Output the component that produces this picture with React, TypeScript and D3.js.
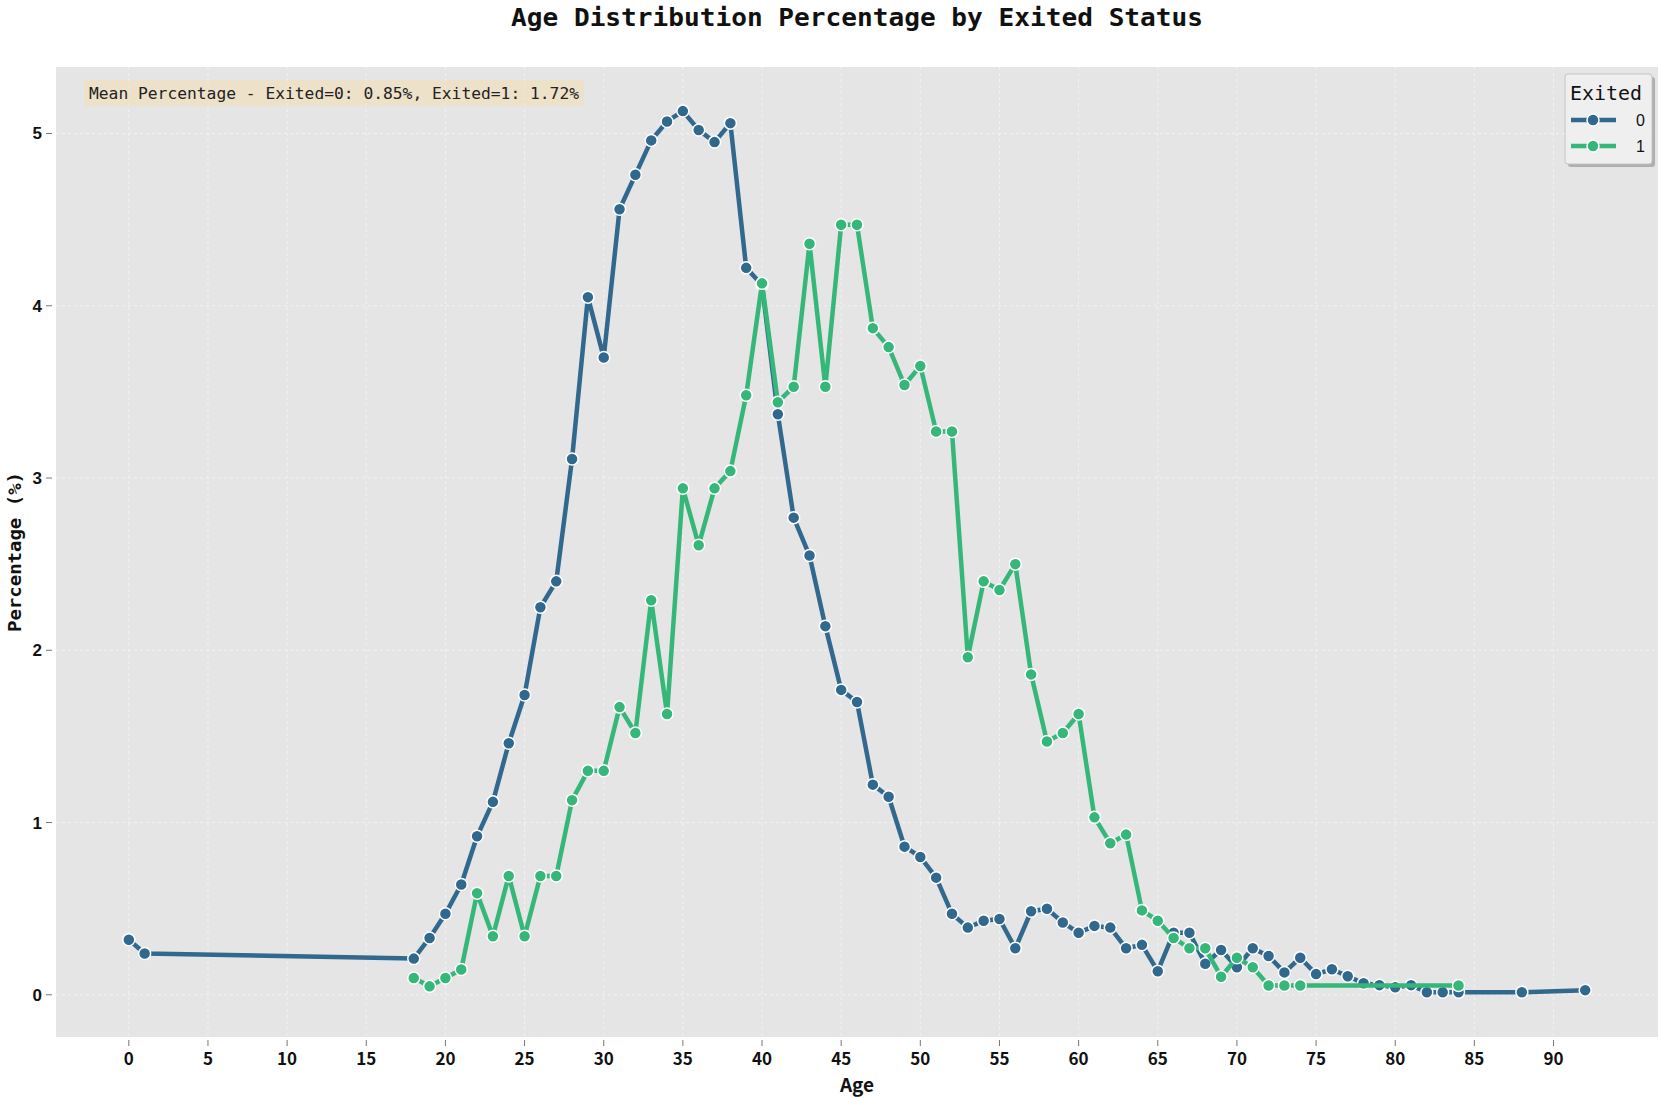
import * as d3 from "d3";

const ages0 = [0, 1, 18, 19, 20, 21, 22, 23, 24, 25, 26, 27, 28, 29, 30, 31, 32, 33, 34, 35, 36, 37, 38, 39, 40,
  41, 42, 43, 44, 45, 46, 47, 48, 49, 50, 51, 52, 53, 54, 55, 56, 57, 58, 59, 60, 61, 62, 63, 64, 65, 66, 67, 68,
  69, 70, 71, 72, 73, 74, 75, 76, 77, 78, 79, 80, 81, 82, 83, 84, 88, 92];
const pct0 = [0.32, 0.24, 0.21, 0.33, 0.47, 0.64, 0.92, 1.12, 1.46, 1.74, 2.25, 2.4, 3.11, 4.05, 3.7, 4.56, 4.76,
  4.96, 5.07, 5.13, 5.02, 4.95, 5.06, 4.22, 4.12, 3.37, 2.77, 2.55, 2.14, 1.77, 1.7, 1.22, 1.15, 0.86, 0.8, 0.68,
  0.47, 0.39, 0.43, 0.44, 0.27, 0.485, 0.5, 0.42, 0.36, 0.4, 0.39, 0.27, 0.29, 0.137, 0.36, 0.36, 0.18, 0.26,
  0.16, 0.27, 0.225, 0.13, 0.215, 0.12, 0.148, 0.108, 0.067, 0.056, 0.044, 0.056, 0.015, 0.015, 0.015, 0.015, 0.027];

const ages1 = [18, 19, 20, 21, 22, 23, 24, 25, 26, 27, 28, 29, 30, 31, 32, 33, 34, 35, 36, 37, 38, 39, 40, 41, 42,
  43, 44, 45, 46, 47, 48, 49, 50, 51, 52, 53, 54, 55, 56, 57, 58, 59, 60, 61, 62, 63, 64, 65, 66, 67, 68, 69, 70,
  71, 72, 73, 74, 84];
const pct1 = [0.098, 0.049, 0.098, 0.147, 0.59, 0.34, 0.69, 0.34, 0.69, 0.69, 1.13, 1.3, 1.3, 1.67, 1.52, 2.29,
  1.63, 2.94, 2.61, 2.94, 3.04, 3.48, 4.13, 3.44, 3.53, 4.36, 3.53, 4.47, 4.47, 3.87, 3.76, 3.54, 3.65, 3.27,
  3.27, 1.96, 2.4, 2.35, 2.5, 1.86, 1.47, 1.52, 1.63, 1.03, 0.88, 0.93, 0.49, 0.43, 0.33, 0.27, 0.27, 0.105,
  0.215, 0.16, 0.054, 0.054, 0.054, 0.054];

const xTicks = d3.range(0, 95, 5);
const yTicks = [0, 1, 2, 3, 4, 5];
const series = [
  { key: "0", ages: ages0, pct: pct0, color: "#31688e" },
  { key: "1", ages: ages1, pct: pct1, color: "#35b779" },
];

const W = 1659;
const H = 1098;
const M = { left: 56, right: 1658, top: 67, bottom: 1037 };
const mono = "'DejaVu Sans Mono', 'Liberation Mono', monospace";
const cjk = "'Noto Sans CJK SC', 'Liberation Sans', sans-serif";

export default function App() {
  const x = d3.scaleLinear().domain([-4.6, 96.6]).range([M.left, M.right]);
  const y = d3.scaleLinear().domain([-0.245, 5.386]).range([M.bottom, M.top]);
  const line = d3.line<[number, number]>().x((d) => x(d[0])).y((d) => y(d[1]));

  return (
    <svg width={W} height={H} style={{ position: "absolute", left: 0, top: 0, background: "#fff" }}>
      <rect x={M.left} y={M.top} width={M.right - M.left} height={M.bottom - M.top} fill="#e5e5e5" />
      {/* grid */}
      {xTicks.map((t) => (
        <line key={"gx" + t} x1={x(t)} x2={x(t)} y1={M.top} y2={M.bottom} stroke="#f2f2f2" strokeWidth={1} strokeDasharray="3,3" />
      ))}
      {yTicks.map((t) => (
        <line key={"gy" + t} x1={M.left} x2={M.right} y1={y(t)} y2={y(t)} stroke="#f2f2f2" strokeWidth={1} strokeDasharray="3,3" />
      ))}

      {/* series */}
      {series.map((s) => {
        const pts = s.ages.map((a, i) => [a, s.pct[i]] as [number, number]);
        return (
          <g key={s.key}>
            <path d={line(pts) ?? ""} fill="none" stroke={s.color} strokeWidth={4.5} strokeLinejoin="round" />
            {pts.map((p, i) => (
              <circle key={i} cx={x(p[0])} cy={y(p[1])} r={6} fill={s.color} stroke="#fff" strokeWidth={1.5} />
            ))}
          </g>
        );
      })}

      {/* x axis */}
      {xTicks.map((t) => (
        <g key={"xt" + t}>
          <line x1={x(t)} x2={x(t)} y1={M.bottom + 3} y2={M.bottom + 9} stroke="#777" strokeWidth={1} />
          <text x={x(t)} y={M.bottom + 28} textAnchor="middle" fontFamily={cjk} fontSize={17} fontWeight="bold" fill="#111">
            {t}
          </text>
        </g>
      ))}
      <text x={(M.left + M.right) / 2} y={1092} textAnchor="middle" fontFamily={cjk} fontSize={19} fontWeight="bold" fill="#111">
        Age
      </text>

      {/* y axis */}
      {yTicks.map((t) => (
        <g key={"yt" + t}>
          <line x1={M.left - 10} x2={M.left - 4} y1={y(t)} y2={y(t)} stroke="#777" strokeWidth={1} />
          <text x={M.left - 14} y={y(t) + 6} textAnchor="end" fontFamily="'Liberation Sans', Arial, sans-serif" fontSize={17} fontWeight="bold" fill="#111">
            {t}
          </text>
        </g>
      ))}
      <text transform={`translate(21,${(M.top + M.bottom) / 2}) rotate(-90)`} textAnchor="middle" fontFamily={mono} fontSize={18} fontWeight="bold" fill="#111" textLength={160} lengthAdjust="spacingAndGlyphs">
        Percentage (%)
      </text>

      {/* title */}
      <text x={857} y={26} textAnchor="middle" fontFamily={mono} fontSize={25} fontWeight="bold" fill="#111" textLength={692} lengthAdjust="spacingAndGlyphs">
        Age Distribution Percentage by Exited Status
      </text>

      {/* annotation */}
      <rect x={84} y={80} width={500} height={26} fill="#f5deb3" opacity={0.55} rx={2} />
      <text x={89} y={99} fontFamily={mono} fontSize={16} fill="#222" textLength={490} lengthAdjust="spacingAndGlyphs">
        Mean Percentage - Exited=0: 0.85%, Exited=1: 1.72%
      </text>

      {/* legend */}
      <rect x={1568} y={77} width={87} height={90} fill="#999" opacity={0.7} rx={3} />
      <rect x={1565} y={74} width={87} height={90} fill="#efefef" stroke="#c4c4c4" strokeWidth={1} rx={3} />
      <text x={1570} y={100} fontFamily={mono} fontSize={20} fill="#111" textLength={72} lengthAdjust="spacingAndGlyphs">
        Exited
      </text>
      {series.map((s, i) => {
        const ly = 120 + i * 26;
        return (
          <g key={"lg" + s.key}>
            <line x1={1571} x2={1616} y1={ly} y2={ly} stroke={s.color} strokeWidth={4.5} />
            <circle cx={1593} cy={ly} r={6} fill={s.color} stroke="#fff" strokeWidth={1.5} />
            <text x={1636} y={ly + 6} fontFamily="'Liberation Sans', Arial, sans-serif" fontSize={16} fill="#111">
              {s.key}
            </text>
          </g>
        );
      })}
    </svg>
  );
}
